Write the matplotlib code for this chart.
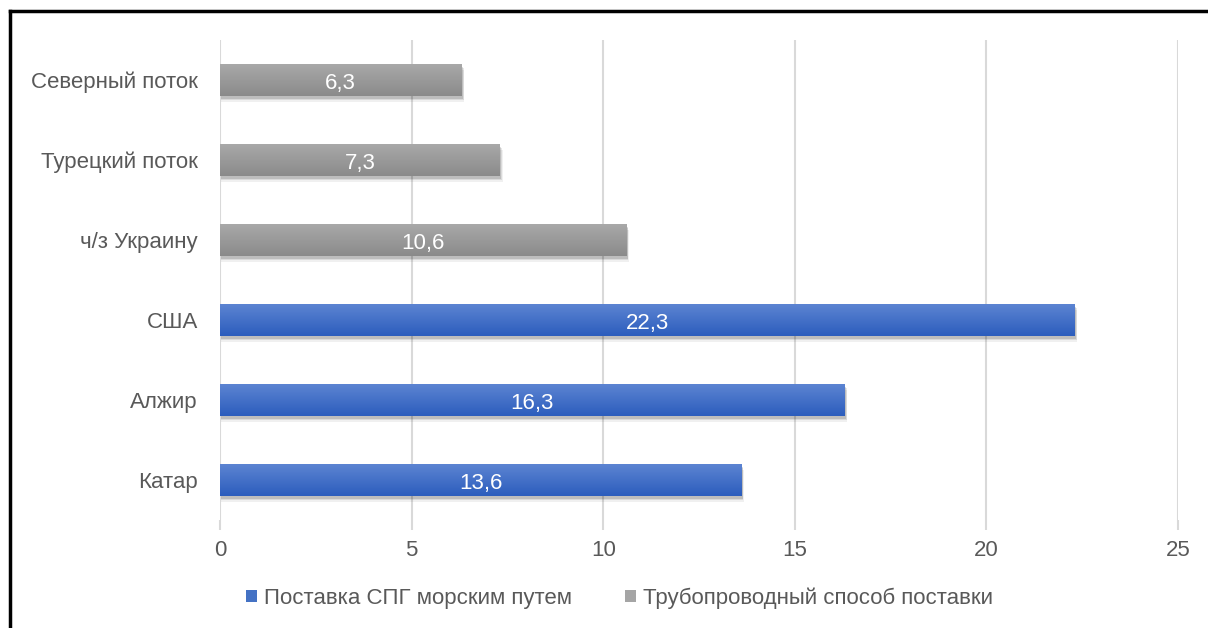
import numpy as np
import matplotlib.pyplot as plt
from matplotlib.patches import Patch, Rectangle
from matplotlib.colors import LinearSegmentedColormap
from matplotlib.lines import Line2D

categories = ['Катар', 'Алжир', 'США', 'ч/з Украину', 'Турецкий поток', 'Северный поток']
values = [13.6, 16.3, 22.3, 10.6, 7.3, 6.3]
kinds = ['lng', 'lng', 'lng', 'pipe', 'pipe', 'pipe']
legend_labels = ['Поставка СПГ морским путем', 'Трубопроводный способ поставки']

plt.rcParams['font.family'] = ['Liberation Sans', 'DejaVu Sans']
text_color = '#595959'
fs = 16

grads = {
    'lng': ('#5c84d2', '#2c5dbd'),
    'pipe': ('#a9a9a9', '#8a8a8a'),
}
solid = {'lng': '#4472c4', 'pipe': '#a5a5a5'}

fig = plt.figure(figsize=(12.08, 6.28), dpi=100)
ax = fig.add_axes([220 / 1208, 1 - 520 / 628, 958 / 1208, 480 / 628])

h = 0.4
grad = np.linspace(0, 1, 64).reshape(-1, 1)
for i, (v, k) in enumerate(zip(values, kinds)):
    # soft shadow under the bar
    for s, a in [(0.075, 0.06), (0.055, 0.09), (0.035, 0.13)]:
        ax.add_patch(Rectangle((0.02, i - h / 2 - s), v + s * 0.7, h,
                               facecolor='black', alpha=a, lw=0, zorder=2))
    cmap = LinearSegmentedColormap.from_list('g', [grads[k][1], grads[k][0]])
    ax.imshow(grad, cmap=cmap, aspect='auto', origin='lower',
              extent=(0, v, i - h / 2, i + h / 2), zorder=3)
    ax.text(v / 2, i - 0.04, f'{v:.1f}'.replace('.', ','), ha='center', va='center',
            color='white', fontsize=fs, zorder=4)

ax.set_xlim(0, 25)
ax.set_ylim(-0.5, 5.5)
ax.set_xticks(range(0, 26, 5))
ax.set_yticks(range(len(categories)))
ax.set_yticklabels(categories)
ax.grid(axis='x', color='#d9d9d9', lw=1.5, zorder=0)
ax.set_axisbelow(True)
for sp in ax.spines.values():
    sp.set_visible(False)
ax.tick_params(axis='x', length=7.2, width=1.5, color='#d9d9d9',
               labelcolor=text_color, labelsize=fs, pad=7)
ax.tick_params(axis='y', length=0, labelcolor=text_color, labelsize=fs, pad=16)

handles = [Patch(facecolor=solid['lng']), Patch(facecolor=solid['pipe'])]
fig.legend(handles, legend_labels, loc='center', bbox_to_anchor=(0.513, 1 - 598 / 628),
           ncol=2, frameon=False, fontsize=fs, labelcolor=text_color,
           handlelength=0.5, handleheight=0.5, handletextpad=0.3, columnspacing=2.4)

# frame border (top and left edges visible)
fig.add_artist(Line2D([10 / 1208, 1], [1 - 11 / 628, 1 - 11 / 628], color='black', lw=2.5,
                      transform=fig.transFigure))
fig.add_artist(Line2D([10 / 1208, 10 / 1208], [0, 1 - 11 / 628], color='black', lw=2.5,
                      transform=fig.transFigure))

fig.savefig('out.png', dpi=100)
